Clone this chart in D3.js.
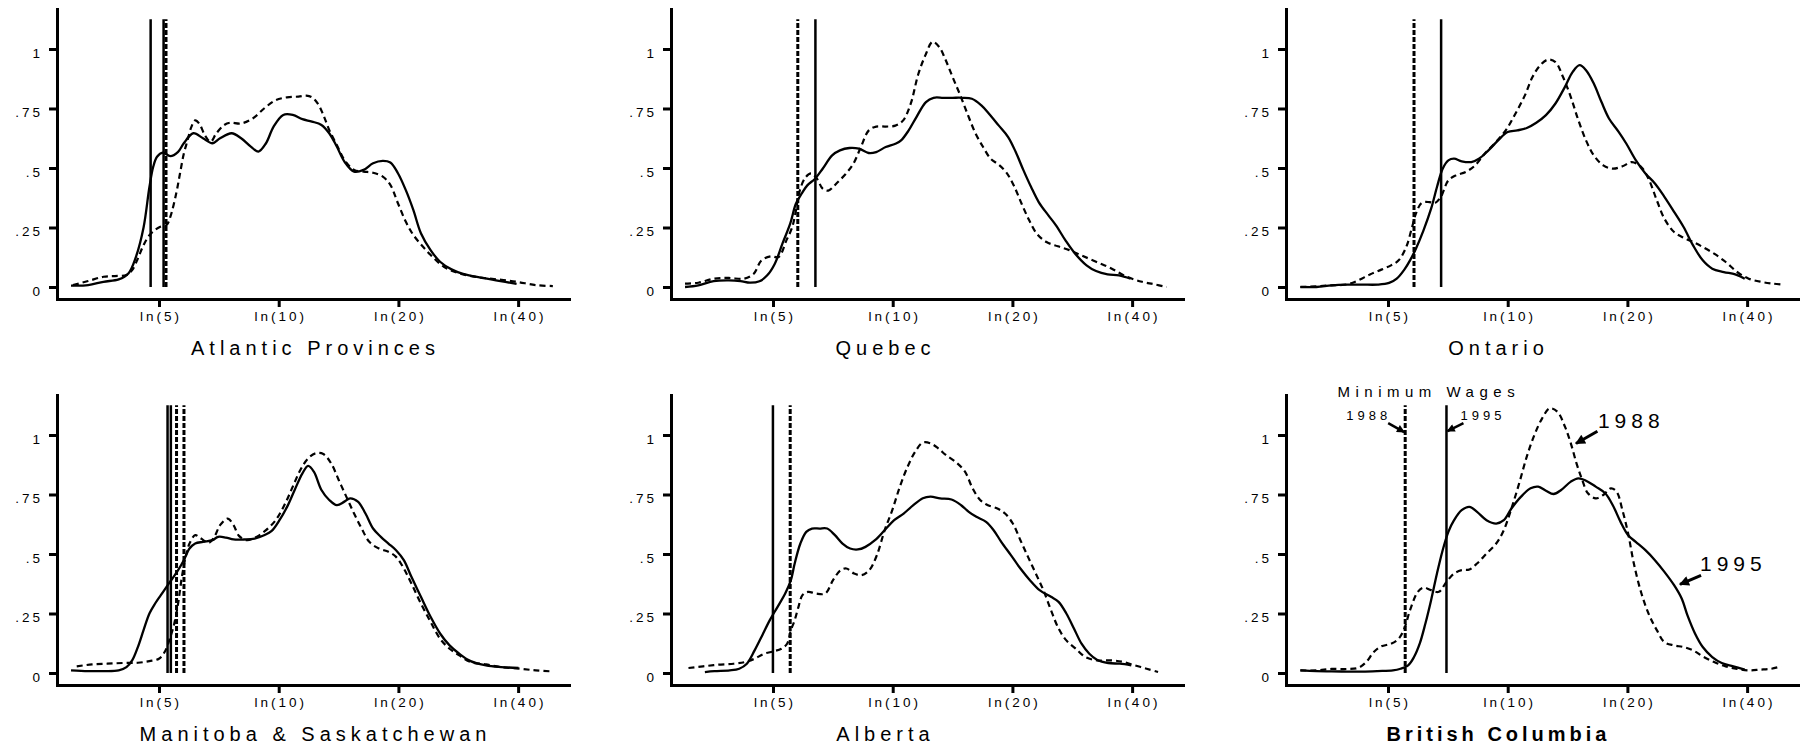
<!DOCTYPE html>
<html>
<head>
<meta charset="utf-8">
<script src="https://cdnjs.cloudflare.com/ajax/libs/d3/7.8.5/d3.min.js"></script>
<style>
  body { margin: 0; background: #fff; }
  svg text { font-family: "Liberation Sans", Arial, sans-serif; fill: #000; }
</style>
</head>
<body>
<svg id="chart" width="1803" height="754"></svg>
<script>
const regions = ["Atlantic Provinces", "Quebec", "Ontario", "Manitoba & Saskatchewan", "Alberta", "British Columbia"];
const xTickWages = [5, 10, 20, 40];
const yTicks = [0, .25, .5, .75, 1];

// kernel densities, [ln wage, density]; 1988 dashed, 1995 solid
const atlantic88 = [[1.111,.008],[1.199,.025],[1.288,.043],[1.354,.046],[1.421,.05],[1.454,.071],[1.487,.12],[1.520,.176],[1.554,.218],[1.587,.24],[1.620,.254],[1.653,.26],[1.675,.295],[1.709,.393],[1.731,.477],[1.753,.56],[1.775,.617],[1.797,.673],[1.819,.70],[1.842,.687],[1.875,.638],[1.908,.61],[1.941,.645],[1.986,.68],[2.019,.69],[2.085,.687],[2.152,.708],[2.218,.75],[2.285,.785],[2.351,.797],[2.417,.80],[2.462,.804],[2.495,.797],[2.528,.772],[2.561,.723],[2.595,.66],[2.639,.597],[2.683,.534],[2.739,.492],[2.794,.485],[2.849,.48],[2.905,.464],[2.949,.429],[2.993,.352],[3.038,.275],[3.082,.219],[3.137,.17],[3.193,.127],[3.259,.085],[3.348,.057],[3.458,.041],[3.569,.032],[3.680,.022],[3.791,.008],[3.890,.004]];
const atlantic95 = [[1.100,.006],[1.199,.008],[1.288,.022],[1.376,.032],[1.432,.057],[1.476,.127],[1.520,.25],[1.554,.42],[1.576,.505],[1.598,.547],[1.631,.565],[1.675,.55],[1.720,.568],[1.753,.604],[1.808,.646],[1.864,.625],[1.919,.604],[1.963,.625],[2.030,.646],[2.085,.625],[2.141,.59],[2.185,.569],[2.229,.604],[2.273,.674],[2.329,.723],[2.384,.723],[2.440,.705],[2.495,.695],[2.550,.681],[2.595,.646],[2.639,.59],[2.683,.527],[2.739,.485],[2.794,.492],[2.849,.52],[2.905,.53],[2.949,.523],[2.993,.478],[3.038,.408],[3.082,.324],[3.126,.226],[3.182,.155],[3.237,.106],[3.303,.074],[3.370,.055],[3.458,.041],[3.569,.027],[3.680,.013]];
const quebec88 = [[1.100,.014],[1.177,.018],[1.266,.035],[1.354,.038],[1.443,.035],[1.498,.056],[1.543,.112],[1.598,.129],[1.642,.126],[1.687,.196],[1.720,.25],[1.742,.32],[1.764,.404],[1.797,.46],[1.830,.477],[1.864,.455],[1.897,.413],[1.930,.405],[1.974,.433],[2.030,.475],[2.074,.517],[2.118,.587],[2.163,.657],[2.207,.674],[2.262,.674],[2.318,.678],[2.362,.699],[2.406,.768],[2.451,.895],[2.495,.979],[2.533,1.03],[2.572,1.008],[2.606,.959],[2.650,.881],[2.694,.805],[2.739,.721],[2.783,.644],[2.827,.587],[2.871,.538],[2.916,.514],[2.960,.482],[3.004,.426],[3.049,.35],[3.093,.28],[3.137,.224],[3.193,.189],[3.259,.171],[3.325,.155],[3.392,.134],[3.480,.106],[3.569,.078],[3.658,.043],[3.746,.022],[3.813,.012],[3.890,0]];
const quebec95 = [[1.100,0],[1.177,.007],[1.266,.025],[1.354,.028],[1.421,.025],[1.476,.018],[1.531,.024],[1.576,.049],[1.620,.098],[1.664,.182],[1.709,.266],[1.742,.35],[1.775,.392],[1.808,.427],[1.853,.455],[1.897,.497],[1.952,.553],[1.997,.574],[2.052,.584],[2.107,.581],[2.163,.563],[2.207,.567],[2.262,.588],[2.318,.602],[2.351,.616],[2.395,.658],[2.440,.714],[2.495,.777],[2.539,.795],[2.595,.795],[2.650,.795],[2.705,.795],[2.761,.791],[2.816,.763],[2.860,.728],[2.916,.679],[2.971,.63],[3.015,.567],[3.060,.49],[3.104,.42],[3.148,.357],[3.204,.301],[3.248,.259],[3.303,.196],[3.359,.14],[3.425,.091],[3.480,.067],[3.547,.053],[3.613,.049],[3.680,.035]];
const ontario88 = [[1.102,0],[1.195,.003],[1.283,.007],[1.372,.011],[1.438,.028],[1.505,.053],[1.571,.073],[1.627,.091],[1.671,.112],[1.715,.168],[1.749,.252],[1.771,.308],[1.804,.353],[1.848,.357],[1.881,.353],[1.915,.378],[1.959,.448],[2.003,.469],[2.059,.483],[2.114,.511],[2.169,.56],[2.225,.602],[2.291,.658],[2.347,.728],[2.402,.805],[2.446,.882],[2.490,.931],[2.535,.955],[2.579,.945],[2.623,.882],[2.668,.798],[2.712,.70],[2.756,.616],[2.801,.553],[2.856,.511],[2.911,.497],[2.967,.507],[3.022,.525],[3.077,.503],[3.122,.448],[3.166,.364],[3.210,.287],[3.266,.231],[3.321,.207],[3.376,.189],[3.432,.168],[3.498,.14],[3.565,.105],[3.631,.063],[3.698,.035],[3.775,.021],[3.841,.014],[3.897,.01]];
const ontario95 = [[1.102,0],[1.195,0],[1.283,.007],[1.372,.01],[1.461,.01],[1.549,.01],[1.616,.017],[1.660,.035],[1.704,.073],[1.737,.112],[1.771,.161],[1.815,.238],[1.859,.329],[1.893,.42],[1.926,.497],[1.959,.532],[1.992,.539],[2.036,.528],[2.092,.525],[2.136,.539],[2.191,.574],[2.247,.616],[2.302,.651],[2.358,.658],[2.413,.668],[2.468,.69],[2.524,.722],[2.579,.771],[2.634,.841],[2.679,.904],[2.719,.932],[2.756,.911],[2.801,.855],[2.845,.778],[2.889,.708],[2.945,.652],[2.989,.603],[3.044,.533],[3.100,.477],[3.155,.435],[3.210,.379],[3.266,.316],[3.321,.252],[3.376,.175],[3.432,.112],[3.487,.077],[3.554,.063],[3.620,.053],[3.675,.035]];
const manSask88 = [[1.133,.028],[1.221,.036],[1.310,.039],[1.399,.042],[1.487,.043],[1.554,.05],[1.609,.06],[1.642,.088],[1.675,.151],[1.698,.208],[1.720,.292],[1.742,.404],[1.764,.488],[1.786,.544],[1.819,.579],[1.853,.565],[1.897,.547],[1.930,.572],[1.963,.621],[2.008,.649],[2.041,.621],[2.074,.575],[2.118,.558],[2.174,.572],[2.229,.60],[2.285,.642],[2.340,.712],[2.384,.783],[2.428,.853],[2.473,.902],[2.517,.923],[2.561,.92],[2.606,.881],[2.650,.811],[2.694,.741],[2.739,.67],[2.783,.607],[2.827,.551],[2.883,.523],[2.938,.509],[2.982,.488],[3.027,.439],[3.071,.376],[3.126,.292],[3.182,.215],[3.237,.144],[3.292,.102],[3.348,.074],[3.414,.046],[3.503,.036],[3.591,.025],[3.702,.018],[3.791,.011],[3.879,.007]];
const manSask95 = [[1.100,.011],[1.199,.008],[1.288,.008],[1.376,.011],[1.421,.025],[1.454,.053],[1.487,.109],[1.520,.18],[1.554,.25],[1.587,.292],[1.620,.327],[1.653,.362],[1.687,.397],[1.720,.432],[1.753,.474],[1.786,.523],[1.819,.544],[1.864,.551],[1.919,.558],[1.952,.572],[1.997,.569],[2.041,.561],[2.107,.561],[2.163,.565],[2.218,.579],[2.262,.597],[2.307,.642],[2.351,.698],[2.395,.769],[2.440,.839],[2.473,.87],[2.506,.846],[2.550,.769],[2.595,.727],[2.639,.705],[2.683,.72],[2.716,.734],[2.761,.72],[2.805,.67],[2.849,.607],[2.894,.572],[2.938,.544],[2.982,.516],[3.027,.474],[3.071,.404],[3.126,.32],[3.182,.236],[3.237,.166],[3.292,.116],[3.348,.081],[3.414,.05],[3.503,.032],[3.591,.025],[3.691,.021]];
const alberta88 = [[1.120,.021],[1.204,.028],[1.292,.035],[1.381,.039],[1.447,.046],[1.503,.06],[1.558,.081],[1.613,.091],[1.658,.102],[1.691,.123],[1.713,.18],[1.735,.222],[1.757,.278],[1.780,.327],[1.813,.341],[1.857,.334],[1.912,.334],[1.957,.39],[2.001,.432],[2.034,.439],[2.079,.418],[2.123,.411],[2.167,.432],[2.211,.495],[2.256,.60],[2.300,.684],[2.344,.783],[2.389,.867],[2.433,.93],[2.477,.968],[2.521,.965],[2.566,.944],[2.610,.916],[2.665,.888],[2.721,.846],[2.765,.776],[2.809,.727],[2.854,.705],[2.909,.691],[2.953,.67],[2.998,.628],[3.042,.558],[3.086,.488],[3.131,.418],[3.175,.348],[3.219,.264],[3.263,.187],[3.308,.137],[3.363,.102],[3.418,.067],[3.485,.053],[3.573,.053],[3.640,.046],[3.706,.032],[3.773,.018],[3.839,.004]];
const alberta95 = [[1.215,.004],[1.270,.008],[1.359,.011],[1.414,.018],[1.458,.039],[1.503,.095],[1.547,.158],[1.591,.222],[1.636,.278],[1.680,.334],[1.713,.39],[1.735,.46],[1.768,.544],[1.802,.593],[1.835,.607],[1.879,.607],[1.923,.607],[1.968,.579],[2.012,.544],[2.056,.523],[2.101,.519],[2.145,.53],[2.200,.558],[2.256,.60],[2.311,.642],[2.366,.67],[2.422,.705],[2.477,.734],[2.521,.741],[2.577,.734],[2.643,.729],[2.699,.705],[2.743,.677],[2.787,.656],[2.843,.635],[2.887,.60],[2.931,.551],[2.987,.495],[3.042,.439],[3.097,.39],[3.153,.348],[3.219,.32],[3.263,.299],[3.308,.25],[3.352,.187],[3.396,.123],[3.441,.081],[3.485,.056],[3.551,.042],[3.618,.039],[3.684,.032]];
const bc88 = [[1.102,.011],[1.195,.011],[1.283,.017],[1.372,.017],[1.438,.022],[1.483,.046],[1.527,.088],[1.571,.112],[1.627,.123],[1.671,.144],[1.704,.187],[1.737,.264],[1.782,.341],[1.815,.359],[1.859,.348],[1.904,.341],[1.948,.383],[1.992,.418],[2.036,.432],[2.081,.435],[2.125,.46],[2.180,.502],[2.236,.544],[2.280,.60],[2.324,.691],[2.369,.797],[2.413,.909],[2.457,1.0],[2.502,1.07],[2.546,1.112],[2.590,1.098],[2.634,1.035],[2.668,.965],[2.701,.881],[2.734,.811],[2.767,.755],[2.812,.734],[2.856,.748],[2.900,.776],[2.933,.762],[2.967,.684],[3.000,.586],[3.033,.46],[3.077,.334],[3.122,.243],[3.166,.18],[3.210,.13],[3.266,.116],[3.321,.109],[3.376,.095],[3.432,.07],[3.498,.046],[3.565,.028],[3.631,.017],[3.698,.011],[3.764,.014],[3.830,.018],[3.886,.028]];
const bc95 = [[1.102,.011],[1.195,.008],[1.283,.007],[1.372,.006],[1.461,.006],[1.549,.008],[1.638,.011],[1.682,.018],[1.726,.032],[1.760,.067],[1.793,.123],[1.826,.208],[1.859,.306],[1.893,.418],[1.926,.516],[1.959,.593],[1.992,.642],[2.036,.684],[2.081,.698],[2.125,.677],[2.180,.642],[2.236,.628],[2.280,.642],[2.324,.691],[2.380,.741],[2.435,.776],[2.479,.783],[2.524,.766],[2.568,.752],[2.612,.769],[2.668,.804],[2.712,.818],[2.756,.808],[2.812,.783],[2.867,.755],[2.911,.705],[2.956,.635],[3.000,.579],[3.044,.551],[3.100,.516],[3.155,.474],[3.210,.425],[3.266,.369],[3.310,.313],[3.343,.243],[3.387,.166],[3.432,.109],[3.487,.067],[3.542,.042],[3.609,.028],[3.675,.014]];

const dens88 = [atlantic88, quebec88, ontario88, manSask88, alberta88, bc88];
const dens95 = [atlantic95, quebec95, ontario95, manSask95, alberta95, bc95];

// minimum wages, ln wage
const minWage88 = [[1.650], [1.753], [1.760], [1.711, 1.754], [1.709], [1.709]];
const minWage95 = [[1.561, 1.636], [1.855], [1.917], [1.659, 1.678], [1.609], [1.948]];

const colX = [57, 671, 1286];
const rowTop = [9, 395];
const titleShift = [0, -44, -46];
const plotW = 512, plotH = 290;

const svg = d3.select("#chart");

const defs = svg.append("defs");
[["headBig", 12, 10], ["headSmall", 9, 8]].forEach(([id, w, h]) => {
  defs.append("marker")
    .attr("id", id)
    .attr("viewBox", "0 0 10 10")
    .attr("refX", 9).attr("refY", 5)
    .attr("markerUnits", "userSpaceOnUse")
    .attr("markerWidth", w).attr("markerHeight", h)
    .attr("orient", "auto")
    .append("path").attr("d", "M0,0L10,5L0,10z").attr("fill", "#000");
});

const x = d3.scaleLinear().domain([1.0188, 3.9835]).range([0, plotW]);
const y = d3.scaleLinear().domain([-0.0504, 1.168]).range([plotH, 0]);
const line = d3.line().x(d => x(d[0])).y(d => y(d[1])).curve(d3.curveCatmullRom.alpha(0.5));
const yFmt = d => d === 0 ? "0" : d === 1 ? "1" : String(d).replace(/^0/, "");

regions.forEach((name, i) => {
  const col = i % 3;
  const g = svg.append("g")
    .attr("transform", `translate(${colX[col]},${rowTop[Math.floor(i / 3)]})`);

  // min wage lines
  minWage95[i].forEach(w => {
    g.append("line")
      .attr("x1", x(w)).attr("x2", x(w))
      .attr("y1", y(0)).attr("y2", y(1.125))
      .attr("stroke", "#000").attr("stroke-width", 2.5);
  });
  minWage88[i].forEach(w => {
    g.append("line")
      .attr("x1", x(w)).attr("x2", x(w))
      .attr("y1", y(0)).attr("y2", y(1.125))
      .attr("stroke", "#000").attr("stroke-width", 3)
      .attr("stroke-dasharray", "5,2");
  });

  g.append("path").datum(dens88[i])
    .attr("d", line).attr("fill", "none")
    .attr("stroke", "#000").attr("stroke-width", 2.2)
    .attr("stroke-dasharray", "6,4");
  g.append("path").datum(dens95[i])
    .attr("d", line).attr("fill", "none")
    .attr("stroke", "#000").attr("stroke-width", 2.3);

  const ax = g.append("g")
    .attr("transform", `translate(0,${plotH})`)
    .call(d3.axisBottom(x)
      .tickValues(xTickWages.map(Math.log))
      .tickFormat(v => `ln(${Math.round(Math.exp(v))})`)
      .tickSize(8).tickSizeOuter(0).tickPadding(4));
  const ay = g.append("g")
    .call(d3.axisLeft(y)
      .tickValues(yTicks).tickFormat(yFmt)
      .tickSize(8).tickSizeOuter(0).tickPadding(6));
  [ax, ay].forEach(a => {
    a.select(".domain").attr("stroke-width", 3).attr("stroke-linecap", "square");
    a.selectAll(".tick line").attr("stroke-width", 3);
    a.selectAll(".tick text")
      .attr("font-size", 13.5).attr("letter-spacing", "3px")
      .attr("font-family", "Liberation Sans, Arial, sans-serif");
  });
  ax.selectAll(".tick text").attr("dx", "1.5px");
  ay.selectAll(".tick text").attr("dy", "0.62em");

  g.append("text")
    .attr("x", plotW / 2 + titleShift[col] + 2.5).attr("y", plotH + 56)
    .attr("text-anchor", "middle")
    .attr("font-size", 20)
    .attr("font-weight", i === 5 ? "bold" : "normal")
    .attr("letter-spacing", i === 5 ? "4px" : "5px")
    .text(name);
});

// annotations in the British Columbia panel
const bc = svg.append("g").attr("transform", `translate(${colX[2]},${rowTop[1]})`);
const x88 = x(minWage88[5][0]), x95 = x(minWage95[5][0]);

bc.append("text")
  .attr("x", (x88 + x95) / 2 + 3).attr("y", y(1.16))
  .attr("text-anchor", "middle").attr("font-size", 15).attr("letter-spacing", "5.5px")
  .text("Minimum Wages");
bc.append("text")
  .attr("x", x88 - 14).attr("y", y(1.063))
  .attr("text-anchor", "end").attr("font-size", 13).attr("letter-spacing", "4px")
  .text("1988");
bc.append("text")
  .attr("x", x95 + 14).attr("y", y(1.063))
  .attr("font-size", 13).attr("letter-spacing", "4px")
  .text("1995");

const arrows = [
  [x88 - 17, y(1.05), x88 - 1, y(1.012), "headSmall", 2.5],
  [x95 + 17, y(1.05), x95 + 1, y(1.016), "headSmall", 2.5],
  [x(2.822), y(1.016), x(2.698), y(0.964), "headBig", 3],
  [x(3.422), y(0.41), x(3.300), y(0.372), "headBig", 3]
];
arrows.forEach(([x1, y1, x2, y2, head, sw]) => {
  bc.append("line")
    .attr("x1", x1).attr("y1", y1).attr("x2", x2).attr("y2", y2)
    .attr("stroke", "#000").attr("stroke-width", sw)
    .attr("marker-end", `url(#${head})`);
});

bc.append("text")
  .attr("x", x(2.825)).attr("y", y(1.029))
  .attr("font-size", 21).attr("letter-spacing", "5px")
  .text("1988");
bc.append("text")
  .attr("x", x(3.416)).attr("y", y(0.429))
  .attr("font-size", 21).attr("letter-spacing", "5px")
  .text("1995");
</script>
</body>
</html>
